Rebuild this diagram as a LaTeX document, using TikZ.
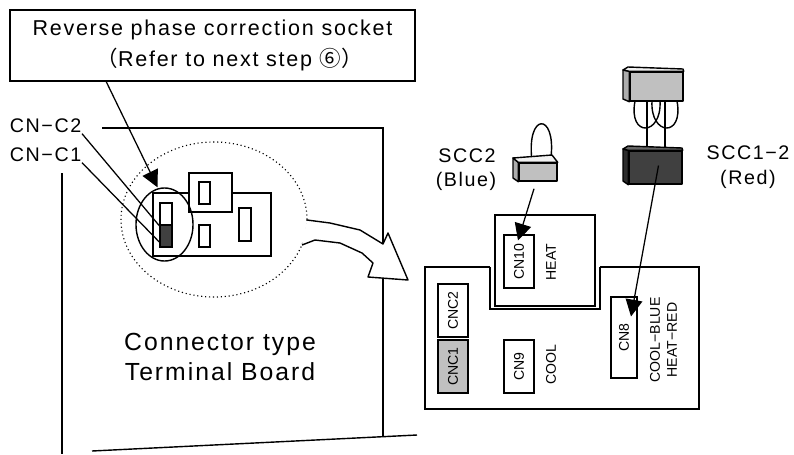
\documentclass[tikz,border=0pt]{standalone}
\usepackage{fontspec}
\setmainfont{Liberation Sans}[LetterSpace=8]
\newfontfamily\boardfont{Liberation Sans}
\newfontfamily\jpfont{Noto Sans CJK JP}
\usetikzlibrary{arrows.meta, shapes.geometric, calc}
\definecolor{PlugGray}{RGB}{192,192,192}
\definecolor{PlugDark}{RGB}{64,64,64}

\begin{document}
\begin{tikzpicture}[x=0.025cm, y=-0.025cm, line width=1pt,
	lbl/.style={inner sep=0pt, font=\fontsize{14}{16}\selectfont},
	pin/.style={draw, fill=white, rotate=90, inner sep=0pt, minimum width=1.325cm,
		minimum height=0.75cm, font=\boardfont\fontsize{10}{12}\selectfont},
	pinlbl/.style={rotate=90, inner sep=0pt, font=\boardfont\fontsize{10}{12}\selectfont},
	plug/.style={draw, inner sep=0pt, line join=round},
	pointer/.style={line width=0.9pt, -{Triangle[length=4.2mm, width=4.2mm]}},
	leader/.style={line width=0.9pt}]
	\useasboundingbox (0,0) rectangle (794,454);

	% terminal board, seen in perspective
	\draw (102,128) -- (383,128) -- (383,437);
	\draw (62,173) -- (62,454);
	\draw (92,451) -- (417,435);
	\node[font=\fontsize{17.6}{21.3}\selectfont, align=center] (tb) at (220,357)
		{Connector type\\Terminal Board};

	% socket area and the fat arrow out of it
	\node[ellipse, draw, dotted, line width=0.8pt, minimum width=4.65cm,
		minimum height=3.875cm] (zoomarea) at (214,219.5) {};
	\fill[white] (307,220) -- (330,223) -- (360,230) -- (383,244) -- (388,233)
		-- (408,280) -- (368,277) -- (373,263) -- (362,253) -- (340,243)
		-- (315,240) -- (302,245) -- cycle;
	\draw[line join=round] (307,220) -- (330,223) -- (360,230) -- (383,244)
		-- (388,233) -- (408,280) -- (368,277) -- (373,263) -- (362,253)
		-- (340,243) -- (315,240) -- (302,245);

	\draw[fill=white] (153,193) rectangle (271,256);
	\draw[fill=white] (189,173) rectangle (232,212);
	\draw (199,182) rectangle (210,204) (199,225) rectangle (210,247)
		(239,208) rectangle (251,241);
	\node[draw, fill=white, inner sep=0pt, minimum width=0.3cm,
		minimum height=0.55cm] (sockhi) at (166,214) {};
	\node[draw, fill=PlugDark, inner sep=0pt, minimum width=0.3cm,
		minimum height=0.55cm] (socklo) at (166,236) {};
	\node[ellipse, draw, minimum width=1.425cm, minimum height=1.825cm]
		(sockring) at (164.5,224.5) {};

	\node[draw, fill=white, minimum width=10.125cm, minimum height=1.775cm,
		font=\fontsize{15.3}{22}\selectfont, align=center] (callout) at (212.5,45.5)
		{Reverse phase correction socket\\\hspace*{1.6em}{\jpfont （}Refer to next step {\jpfont ⑥）}};
	\draw[pointer] ($(callout.south west)+(97,0)$) -- ($(sockring.north)+(-7,0)$);

	\node[lbl, anchor=east] (cnc2lbl) at (82,126) {CN−C2};
	\node[lbl, anchor=east] (cnc1lbl) at (82,155) {CN−C1};
	\draw[leader] (cnc2lbl.south east) -- (sockhi.south west);
	\draw[leader] (cnc1lbl.south east) -- ($(socklo.west)+(0,6)$);

	% indoor PCB with the connectors
	\draw (490,267) -- (425,267) -- (425,409) -- (699,409) -- (699,267) -- (600,267);
	\draw (490,267) -- (490,309) -- (600,309) -- (600,267);
	\node[draw, fill=white, minimum width=2.5cm, minimum height=2.275cm]
		(heatbrd) at (545,260.5) {};
	\node[pin] (cn10) at (519,261.5) {CN10};
	\node[pinlbl] (heat) at (551,262) {HEAT};
	\node[pin] (cnc2) at (453,310.5) {CNC2};
	\node[pin, fill=PlugGray] (cnc1) at (453,366.5) {CNC1};
	\node[pin] (cn9) at (519,366.5) {CN9};
	\node[pinlbl] (cool) at (551,365) {COOL};
	\node[pin, minimum width=2.025cm, minimum height=0.65cm] (cn8) at (624,337.5) {CN8};
	\node[pinlbl, align=center] (cn8lbl) at (663.5,340) {COOL−BLUE\\HEAT−RED};

	% SCC2 short-circuit plug
	\draw (532,161) .. controls (526,112) and (556,112) .. (551,157);
	\node[plug, fill=PlugGray, minimum width=0.95cm, minimum height=0.45cm]
		(scc2) at (538,172) {};
	\draw[fill=PlugGray!90!black, line join=round] (513,158) -- (scc2.north west)
		-- (scc2.south west) -- (513,178) -- cycle;
	\draw[fill=gray!10, line join=round] (513,158) -- (552,155) -- (scc2.north east)
		-- (scc2.north west) -- cycle;
	\node[lbl] (scc2lbl) at (467,156) {SCC2};
	\node[lbl] (blue) at (466,181) {(Blue)};

	% SCC1-2 plug pair
	\node[plug, fill=PlugGray, minimum width=1.325cm, minimum height=0.725cm]
		(scc12top) at (656.5,86.5) {};
	\draw[fill=PlugGray!90!black, line join=round] (623,70) -- (scc12top.north west)
		-- (scc12top.south west) -- (623,99) -- cycle;
	\draw[fill=gray!10, line join=round] (623,70) -- (628,67) -- (683,69)
		-- (scc12top.north east) -- (scc12top.north west) -- cycle;
	\draw (635,101) .. controls (628,138) and (662,136) .. (660,101);
	\draw (652,101) .. controls (650,136) and (684,138) .. (677,101);
	\draw (647,101) -- (647,148) (665,101) -- (665,148);
	\node[plug, fill=PlugDark, minimum width=1.325cm, minimum height=0.825cm]
		(scc12) at (655.5,167.5) {};
	\draw[fill=PlugDark!70!black, line join=round] (623,149) -- (scc12.north west)
		-- (scc12.south west) -- (623,181) -- cycle;
	\draw[fill=PlugDark!80, line join=round] (623,149) -- (628,146) -- (682,148)
		-- (scc12.north east) -- (scc12.north west) -- cycle;
	\node[lbl] (scc12lbl) at (748,153) {SCC1−2};
	\node[lbl] (red) at (748,179) {(Red)};

	\draw[pointer] ($(scc2.south)+(-4,7)$) -- ($(cn10.center)+(-1,-21)$);
	\draw[pointer] ($(scc12.center)+(3,-2)$) -- ($(cn8.center)+(7,-21)$);
\end{tikzpicture}
\end{document}
